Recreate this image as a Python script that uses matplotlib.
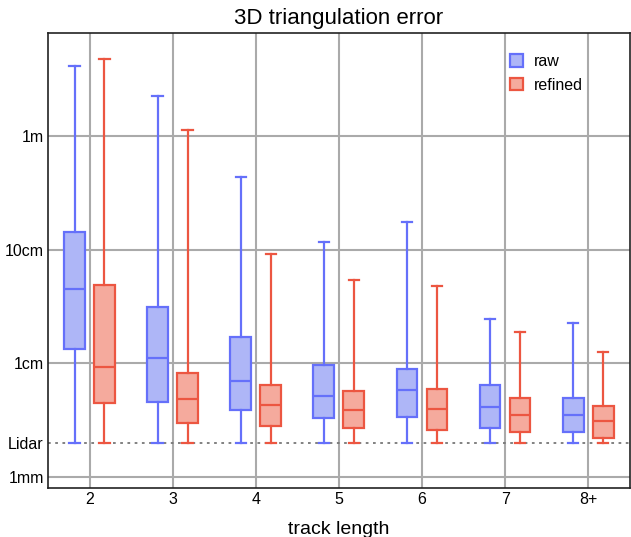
import numpy as np
import matplotlib
matplotlib.use('Agg')
import matplotlib.pyplot as plt
from matplotlib.patches import Patch

plt.rcParams['font.family'] = ['Liberation Sans', 'DejaVu Sans']

# track length categories
categories = ['2', '3', '4', '5', '6', '7', '8+']
lidar = 0.002  # metres

# box stats in metres: whisker low, q1, median, q3, whisker high
raw_lo = [0.002, 0.002, 0.002, 0.002, 0.002, 0.002, 0.002]
raw_q1 = [0.0134, 0.0046, 0.0039, 0.0033, 0.0034, 0.0027, 0.0025]
raw_med = [0.0448, 0.0111, 0.0070, 0.0052, 0.0058, 0.0041, 0.0035]
raw_q3 = [0.144, 0.0315, 0.0170, 0.0097, 0.0089, 0.0065, 0.0050]
raw_hi = [4.12, 2.26, 0.438, 0.116, 0.173, 0.0245, 0.0228]

ref_lo = [0.002, 0.002, 0.002, 0.002, 0.002, 0.002, 0.002]
ref_q1 = [0.0045, 0.0030, 0.0028, 0.0027, 0.0026, 0.0025, 0.0022]
ref_med = [0.0093, 0.0049, 0.0043, 0.0039, 0.0040, 0.0035, 0.0031]
ref_q3 = [0.0489, 0.0082, 0.0065, 0.0057, 0.0060, 0.0050, 0.0042]
ref_hi = [4.75, 1.12, 0.092, 0.054, 0.048, 0.0188, 0.0127]

raw_edge, raw_face = '#6570fa', '#aeb6f7'
ref_edge, ref_face = '#ec5641', '#f5aa9d'


def make_stats(lo, q1, med, q3, hi):
    return [dict(whislo=a, q1=b, med=c, q3=d, whishi=e, fliers=[])
            for a, b, c, d, e in zip(lo, q1, med, q3, hi)]


fig = plt.figure(figsize=(6.31, 5.37), dpi=100)
ax = fig.add_axes([0.076, 0.091, 0.922, 0.848])

x = np.arange(len(categories))
off = 0.18
w = 0.25

for stats, pos, ec, fc in [
        (make_stats(raw_lo, raw_q1, raw_med, raw_q3, raw_hi), x - off, raw_edge, raw_face),
        (make_stats(ref_lo, ref_q1, ref_med, ref_q3, ref_hi), x + off, ref_edge, ref_face)]:
    ax.bxp(stats, positions=pos, widths=w, capwidths=w * 0.5, patch_artist=True,
           showfliers=False,
           boxprops=dict(facecolor=fc, edgecolor=ec, linewidth=1.6),
           medianprops=dict(color=ec, linewidth=1.6),
           whiskerprops=dict(color=ec, linewidth=1.6),
           capprops=dict(color=ec, linewidth=1.6), zorder=3)

ax.set_yscale('log')
ax.set_ylim(0.0008, 8.05)
ax.set_xlim(-0.5, len(categories) - 0.5)

ax.set_xticks(x)
ax.set_xticklabels(categories, fontsize=11.5)
ax.set_yticks([0.001, lidar, 0.01, 0.1, 1])
ax.set_yticklabels(['1mm', 'Lidar', '1cm', '10cm', '1m'], fontsize=11.5)
ax.yaxis.set_minor_locator(matplotlib.ticker.NullLocator())
ax.tick_params(axis='y', length=0, pad=3)
ax.tick_params(axis='x', length=0, pad=3)

for xv in x:
    ax.axvline(xv, color='#aaaaaa', lw=1.5, zorder=0)
for yv in [0.001, 0.01, 0.1, 1]:
    ax.axhline(yv, color='#aaaaaa', lw=1.5, zorder=0)
ax.axhline(lidar, color='#777777', lw=1.3, ls=(0, (1.5, 2.5)), zorder=1)

for s in ax.spines.values():
    s.set_color('#222222')
    s.set_linewidth(1.2)

ax.set_title('3D triangulation error', fontsize=16, pad=6)
ax.set_xlabel('track length', fontsize=14, labelpad=10)

handles = [Patch(facecolor=raw_face, edgecolor=raw_edge, lw=1.6, label='raw'),
           Patch(facecolor=ref_face, edgecolor=ref_edge, lw=1.6, label='refined')]
ax.legend(handles=handles, loc='upper left', bbox_to_anchor=(0.77, 0.985), frameon=False,
          fontsize=11.5, handlelength=0.8, handleheight=0.8, handletextpad=0.7,
          labelspacing=0.55)

fig.savefig('out.png', dpi=100)
